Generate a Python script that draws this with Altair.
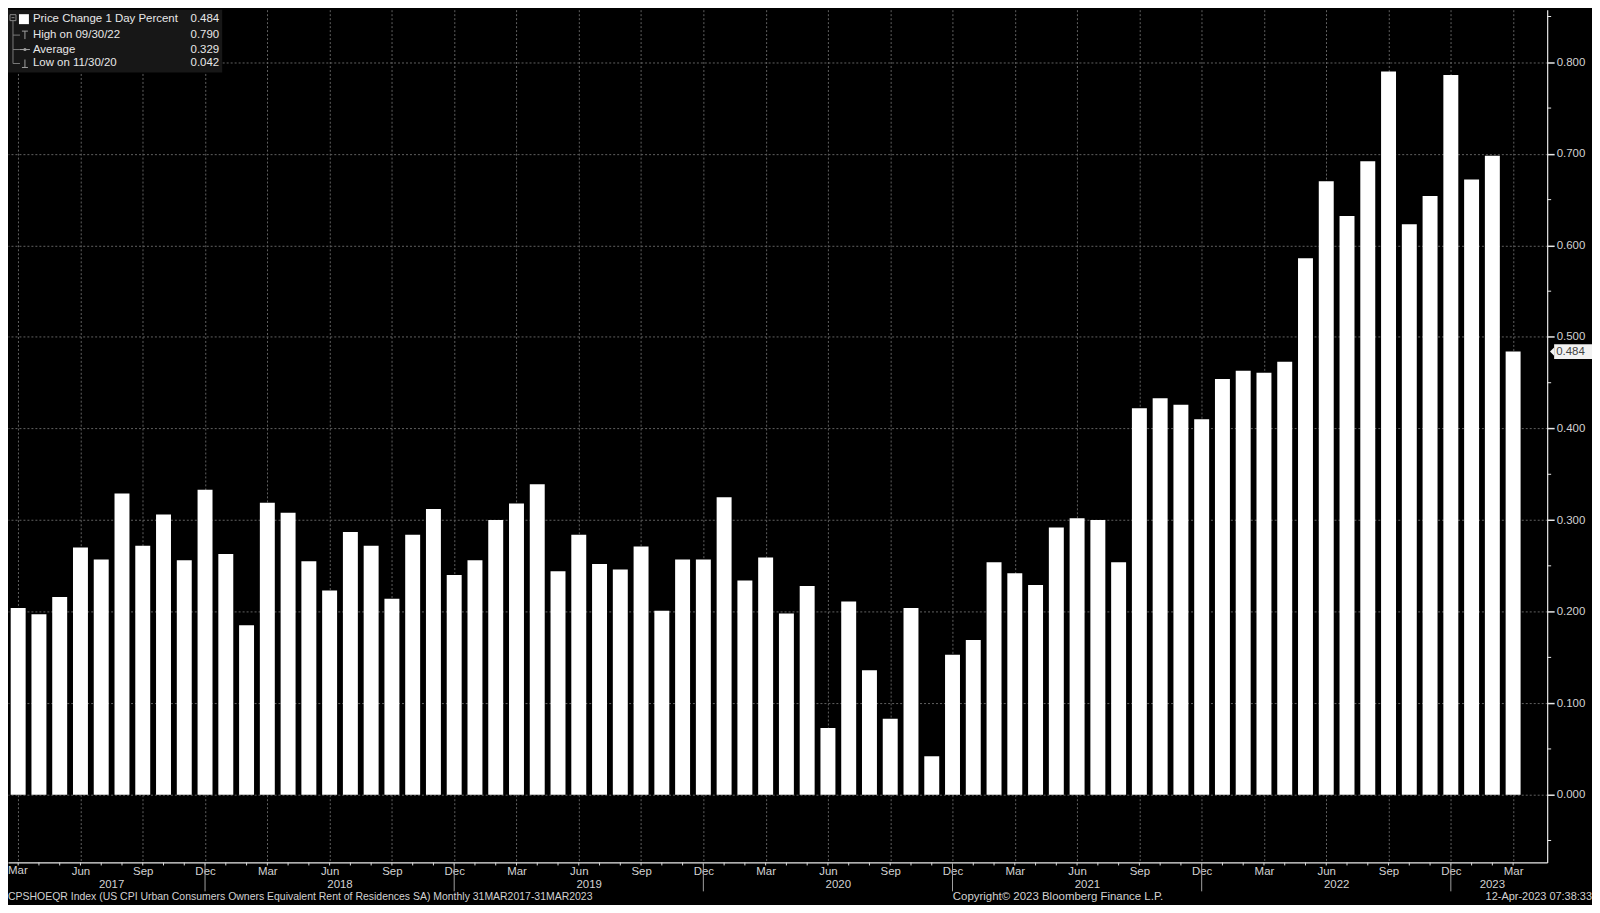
import altair as alt
import pandas as pd

# ---- data (monthly % change, Mar 2017 .. Mar 2023) ----
VALUES = [
    0.204, 0.197, 0.216, 0.270, 0.257, 0.329, 0.272, 0.306, 0.256, 0.333,
    0.263, 0.185, 0.319, 0.308, 0.255, 0.223, 0.287, 0.272, 0.214, 0.284,
    0.312, 0.240, 0.256, 0.300, 0.318, 0.339, 0.244, 0.284, 0.252, 0.246,
    0.271, 0.201, 0.257, 0.257, 0.325, 0.234, 0.259, 0.198, 0.228, 0.073,
    0.211, 0.136, 0.083, 0.204, 0.042, 0.153, 0.169, 0.254, 0.242, 0.229,
    0.292, 0.302, 0.300, 0.254, 0.422, 0.433, 0.426, 0.410, 0.454, 0.463,
    0.461, 0.473, 0.586, 0.670, 0.632, 0.692, 0.790, 0.623, 0.654, 0.786,
    0.672, 0.698, 0.484,
]
START_YEAR, START_MONTH = 2017, 3
QUARTER_LABELS = ["Mar", "Jun", "Sep", "Dec"]
Y_TICKS = [0.0, 0.1, 0.2, 0.3, 0.4, 0.5, 0.6, 0.7, 0.8]
Y_MINOR = [-0.05, 0.05, 0.15, 0.25, 0.35, 0.45, 0.55, 0.65, 0.75, 0.85]
SERIES_NAME = "Price Change 1 Day Percent"
FOOTER_LEFT = "CPSHOEQR Index (US CPI Urban Consumers Owners Equivalent Rent of Residences SA)  Monthly 31MAR2017-31MAR2023"
FOOTER_MID = "Copyright\u00a9 2023 Bloomberg Finance L.P."
FOOTER_RIGHT = "12-Apr-2023 07:38:33"

n = len(VALUES)
years = [START_YEAR + (START_MONTH - 1 + i) // 12 for i in range(n)]
months = [(START_MONTH - 1 + i) % 12 + 1 for i in range(n)]
df = pd.DataFrame({"idx": list(range(n)), "value": VALUES, "year": years, "month": months})
df["date"] = [f"{m:02d}/{pd.Timestamp(y, m, 1).days_in_month}/{str(y)[2:]}" for y, m in zip(years, months)]

hi = df.loc[df["value"].idxmax()]
lo = df.loc[df["value"].idxmin()]
avg = df["value"].mean()
last = df.iloc[-1]

year_df = df.groupby("year", as_index=False)["idx"].mean()
year_df["label"] = year_df["year"].astype(str)
sep_df = df[df["month"] == 12][["idx"]]
minor_df = pd.DataFrame({"v": Y_MINOR})
last_df = df.tail(1).copy()
last_df["label"] = last_df["value"].map(lambda v: f"{v:.3f}")

# ---- layout ----
W, H = 1545, 856
FONT = "Liberation Sans"
XSC = alt.Scale(domain=[-0.25, 73.4], nice=False, zero=False)
YSC = alt.Scale(domain=[-0.07399, 0.85745], nice=False, zero=False)
GRID = "#606060"
TXT = "#d2d2d2"

lab_arr = "[" + ",".join(f"'{s}'" for s in QUARTER_LABELS) + "]"

X_AXIS = alt.Axis(
    values=list(range(0, n, 3)), labelExpr=f"datum.value == 0 ? '' : {lab_arr}[(datum.value/3)%4]",
    grid=True, gridColor=GRID, gridDash=[2, 2], gridWidth=1,
    ticks=False, domainColor="#e8e8e8", domainWidth=1.2,
    labelColor=TXT, labelFont=FONT, labelFontSize=11.5, labelPadding=9,
    labelBaseline="middle", labelFlush=False, labelOverlap=False, title=None,
)
Y_AXIS = alt.Axis(
    orient="right", values=Y_TICKS, format=".3f",
    grid=True, gridColor=GRID, gridDash=[2, 2], gridWidth=1,
    tickColor="#e8e8e8", tickSize=7, tickWidth=1.5, domainColor="#e8e8e8", domainWidth=1.2,
    labelColor=TXT, labelFont=FONT, labelFontSize=11.5, labelPadding=2, title=None,
)


def X(field):
    return alt.X(field, scale=XSC, axis=X_AXIS, title=None)


def Y(field):
    return alt.Y(field, scale=YSC, axis=Y_AXIS, title=None)


def txt(s, x, y, align="left", size=11.5, color=TXT, font=FONT):
    return alt.Chart(pd.DataFrame({"t": [s]})).mark_text(
        align=align, baseline="middle", font=font, fontSize=size, color=color
    ).encode(x=alt.value(x), y=alt.value(y), text="t:N")


def box(x, x2, y, y2, fill=None, stroke=None):
    props = {}
    if fill:
        props["fill"] = fill
    else:
        props["fillOpacity"] = 0
    if stroke:
        props["stroke"] = stroke
        props["strokeWidth"] = 1
    return alt.Chart(pd.DataFrame({"a": [0]})).mark_rect(**props).encode(
        x=alt.value(x), x2=alt.value(x2), y=alt.value(y), y2=alt.value(y2)
    )


def line(x, x2, y, y2, color="#7a7a7a"):
    return alt.Chart(pd.DataFrame({"a": [0]})).mark_rule(color=color, strokeWidth=1).encode(
        x=alt.value(x), x2=alt.value(x2), y=alt.value(y), y2=alt.value(y2)
    )


bars = alt.Chart(df).mark_bar(color="white", size=15, clip=True).encode(
    x=X("idx:Q"), y=Y("value:Q")
)

month_ticks = alt.Chart(df).mark_rule(color="#d8d8d8", strokeWidth=1).encode(
    x=X("idx:Q"), y=alt.value(H), y2=alt.value(H + 3)
)
year_seps = alt.Chart(sep_df).mark_rule(color="#a0a0a0", strokeWidth=1).encode(
    x=X("idx:Q"), y=alt.value(H), y2=alt.value(H + 29)
)
year_labels = alt.Chart(year_df).mark_text(
    font=FONT, fontSize=11.5, color=TXT, baseline="middle"
).encode(x=X("idx:Q"), y=alt.value(H + 23), text="label:N")
first_month = txt(QUARTER_LABELS[0], 0, H + 9)

minor_ticks = alt.Chart(minor_df).mark_rule(color="#e8e8e8", strokeWidth=1).encode(
    y=Y("v:Q"), x=alt.value(W), x2=alt.value(W + 4)
)

# last value tag
tag_box = alt.Chart(last_df).mark_rect(fill="#f2f2f2", yOffset=-7.5, y2Offset=7.5).encode(
    y=Y("value:Q"), y2=alt.Y2("value:Q"), x=alt.value(W + 7), x2=alt.value(W + 45)
)
tag_tip = alt.Chart(last_df).mark_point(
    shape="M0,-1L-1,0L0,1Z", filled=True, fill="#f2f2f2", strokeWidth=0, size=70, opacity=1
).encode(y=Y("value:Q"), x=alt.value(W + 7))
tag_text = alt.Chart(last_df).mark_text(
    align="left", baseline="middle", font=FONT, fontSize=11.5, color="#444444"
).encode(y=Y("value:Q"), x=alt.value(W + 9), text="label:N")

# legend
leg_x, rows = 25, [9.5, 25.5, 40, 54]
legend = [
    box(0, 215, 0, 63, fill="#171717"),
    box(2, 8, 5, 11, stroke="#8a8a8a"),
    line(3.5, 6.5, 8, 8, color="#8a8a8a"),
    line(5, 5, 11, rows[3]),
    line(5, 12, rows[1], rows[1]),
    line(5, 12, rows[2], rows[2]),
    line(5, 12, rows[3], rows[3]),
    box(11, 21, 4.5, 14.5, fill="#ffffff"),
    line(14, 20, rows[1] - 4, rows[1] - 4, color="#a0a0a0"),
    line(17, 17, rows[1] - 4, rows[1] + 4, color="#a0a0a0"),
    line(12, 22, rows[2], rows[2], color="#a0a0a0"),
    line(14, 20, rows[3] + 4, rows[3] + 4, color="#a0a0a0"),
    line(17, 17, rows[3] - 4, rows[3] + 4, color="#a0a0a0"),
    txt(SERIES_NAME, leg_x, rows[0], color="#e8e8e8"),
    txt(f"High on {hi['date']}", leg_x, rows[1], color="#e8e8e8"),
    txt("Average", leg_x, rows[2], color="#e8e8e8"),
    txt(f"Low on {lo['date']}", leg_x, rows[3], color="#e8e8e8"),
    txt(f"{last['value']:.3f}", 212, rows[0], align="right", color="#e8e8e8"),
    txt(f"{hi['value']:.3f}", 212, rows[1], align="right", color="#e8e8e8"),
    txt(f"{avg:.3f}", 212, rows[2], align="right", color="#e8e8e8"),
    txt(f"{lo['value']:.3f}", 212, rows[3], align="right", color="#e8e8e8"),
]
avg_dot = alt.Chart(pd.DataFrame({"a": [0]})).mark_point(
    shape="circle", filled=True, color="#a0a0a0", size=10, opacity=1
).encode(x=alt.value(17), y=alt.value(rows[2]))

footer = [
    txt(FOOTER_LEFT, 0, H + 35, size=10.5),
    txt(FOOTER_MID, 1054, H + 35, align="center", size=11.5),
    txt(FOOTER_RIGHT, 1590, H + 35, align="right", size=11),
]

chart = alt.layer(
    bars, month_ticks, year_seps, year_labels, first_month, minor_ticks,
    tag_box, tag_tip, tag_text, *legend, avg_dot, *footer
).properties(
    width=W, height=H, background="#000000", padding=0
).configure_view(strokeWidth=0)

chart.save("out.html", embed_options={"renderer": "svg", "actions": False})
